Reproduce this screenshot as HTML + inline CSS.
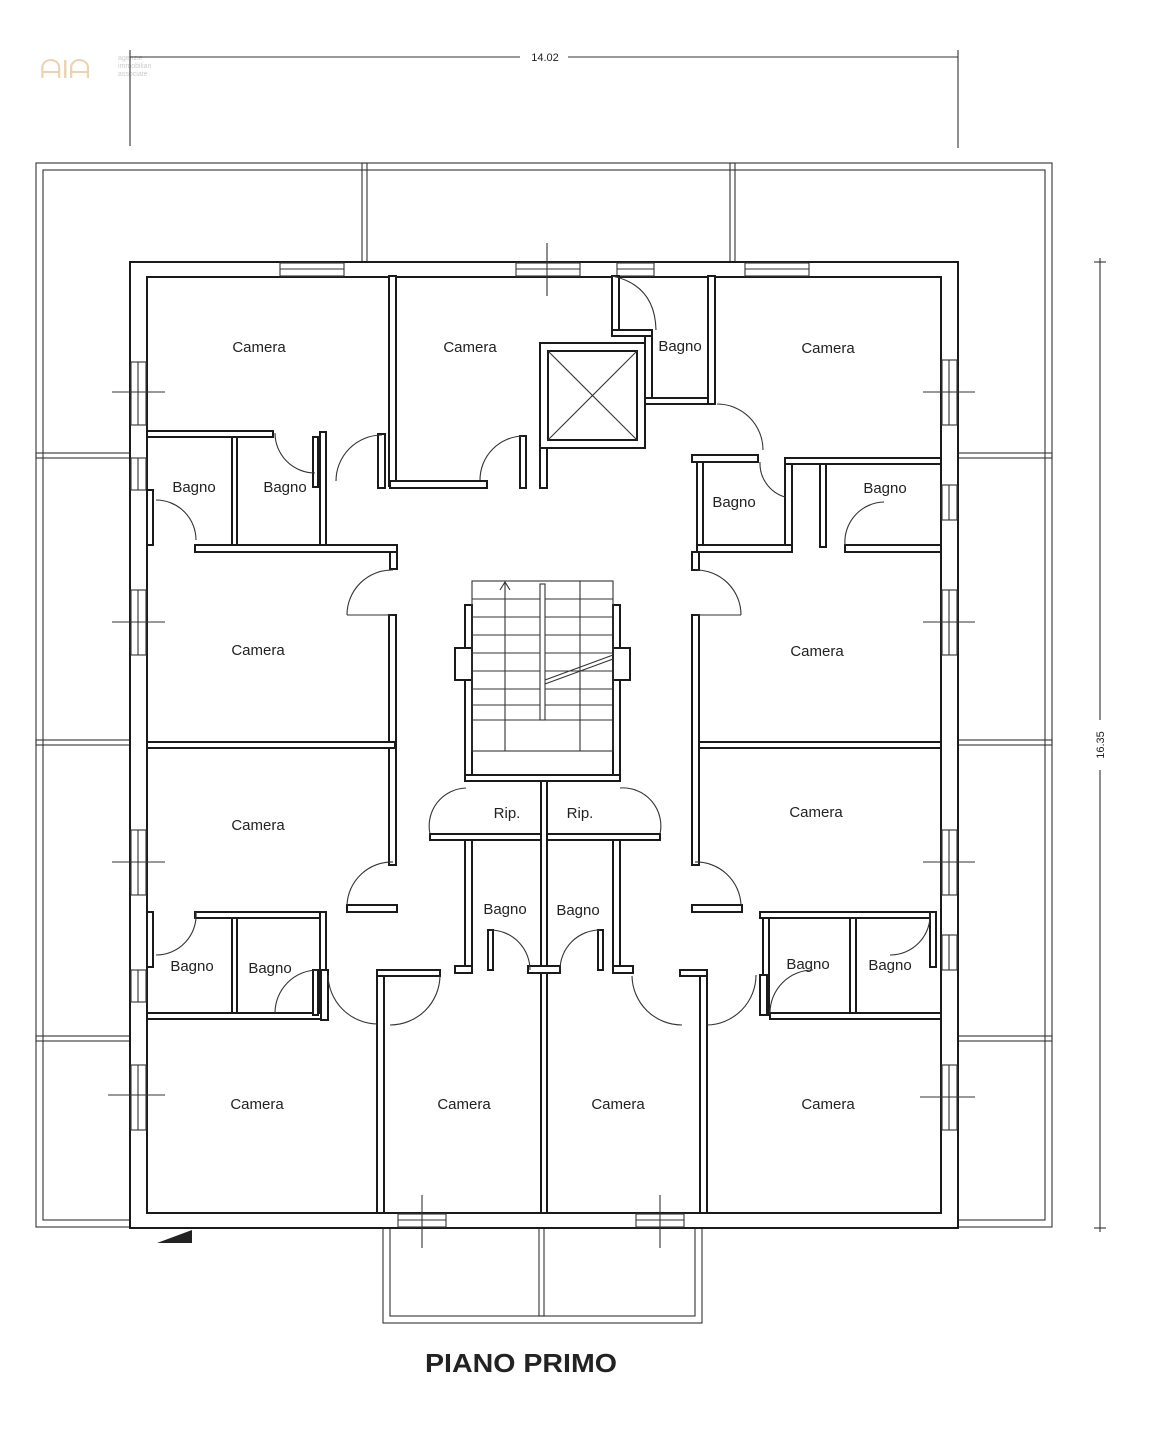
<!DOCTYPE html>
<html><head><meta charset="utf-8"><style>
html,body{margin:0;padding:0;background:#fff}
svg{display:block}
.w{fill:#fff;stroke:#1a1a1a;stroke-width:2}
.t{fill:none;stroke:#333;stroke-width:1.1}
.d{fill:none;stroke:#333;stroke-width:1.1}
text{font-family:"Liberation Sans",sans-serif;fill:#222}
.lb{font-size:15px;text-anchor:middle}
</style></head><body>
<svg width="1165" height="1451" viewBox="0 0 1165 1451" xmlns="http://www.w3.org/2000/svg">
<text x="40" y="78" font-size="26" style="fill:#ecd3b0">ᗩIᗩ</text>
<text x="118" y="60" font-size="7" style="fill:#ccc">agenzie</text>
<text x="118" y="68" font-size="7" style="fill:#ccc">immobiliari</text>
<text x="118" y="76" font-size="7" style="fill:#ccc">associate</text>
<line x1="130" y1="57" x2="520" y2="57" class="t"/><line x1="568" y1="57" x2="958" y2="57" class="t"/>
<line x1="130" y1="50" x2="130" y2="146" class="t"/><line x1="958" y1="50" x2="958" y2="148" class="t"/>
<text x="545" y="61" font-size="11" text-anchor="middle">14.02</text>
<line x1="1100" y1="258" x2="1100" y2="720" class="t"/><line x1="1100" y1="770" x2="1100" y2="1232" class="t"/>
<line x1="1094" y1="262" x2="1106" y2="262" class="t"/><line x1="1094" y1="1228" x2="1106" y2="1228" class="t"/>
<text x="1104" y="745" font-size="11" text-anchor="middle" transform="rotate(-90 1104 745)">16.35</text>
<rect x="36" y="163" width="1016" height="1064" class="t"/>
<rect x="43" y="170" width="1002" height="1050" class="t"/>
<rect x="362" y="163" width="5" height="100" class="t"/><rect x="730" y="163" width="5" height="100" class="t"/>
<rect x="36" y="453" width="94" height="5" class="t"/><rect x="36" y="740" width="94" height="5" class="t"/><rect x="36" y="1036" width="94" height="5" class="t"/>
<rect x="958" y="453" width="94" height="5" class="t"/><rect x="958" y="740" width="94" height="5" class="t"/><rect x="958" y="1036" width="94" height="5" class="t"/>
<rect x="383" y="1227" width="319" height="96" class="t"/><rect x="390" y="1227" width="305" height="89" class="t"/>
<rect x="539" y="1227" width="5" height="89" class="t"/>
<polygon points="157,1243 192,1230 192,1243" fill="#222"/>
<path d="M130 262 H958 V1228 H130 Z M147 277 V1213 H941 V277 Z" fill="#fff" stroke="#1a1a1a" stroke-width="2" fill-rule="evenodd"/>
<g class="t">
<rect x="280" y="263" width="64" height="13"/><line x1="280" y1="269" x2="344" y2="269"/>
<rect x="516" y="263" width="64" height="13"/><line x1="516" y1="269" x2="580" y2="269"/>
<rect x="617" y="263" width="37" height="13"/><line x1="617" y1="269" x2="654" y2="269"/>
<rect x="745" y="263" width="64" height="13"/><line x1="745" y1="269" x2="809" y2="269"/>
<rect x="131" y="362" width="15" height="63"/><line x1="138" y1="362" x2="138" y2="425"/>
<rect x="131" y="458" width="15" height="32"/><line x1="138" y1="458" x2="138" y2="490"/>
<rect x="131" y="590" width="15" height="65"/><line x1="138" y1="590" x2="138" y2="655"/>
<rect x="131" y="830" width="15" height="65"/><line x1="138" y1="830" x2="138" y2="895"/>
<rect x="131" y="970" width="15" height="32"/><line x1="138" y1="970" x2="138" y2="1002"/>
<rect x="131" y="1065" width="15" height="65"/><line x1="138" y1="1065" x2="138" y2="1130"/>
<rect x="942" y="360" width="15" height="65"/><line x1="949" y1="360" x2="949" y2="425"/>
<rect x="942" y="485" width="15" height="35"/><line x1="949" y1="485" x2="949" y2="520"/>
<rect x="942" y="590" width="15" height="65"/><line x1="949" y1="590" x2="949" y2="655"/>
<rect x="942" y="830" width="15" height="65"/><line x1="949" y1="830" x2="949" y2="895"/>
<rect x="942" y="935" width="15" height="35"/><line x1="949" y1="935" x2="949" y2="970"/>
<rect x="942" y="1065" width="15" height="65"/><line x1="949" y1="1065" x2="949" y2="1130"/>
<rect x="398" y="1214" width="48" height="13"/><line x1="398" y1="1220" x2="446" y2="1220"/>
<rect x="636" y="1214" width="48" height="13"/><line x1="636" y1="1220" x2="684" y2="1220"/>
<line x1="112" y1="392" x2="165" y2="392"/><line x1="112" y1="622" x2="165" y2="622"/><line x1="112" y1="862" x2="165" y2="862"/><line x1="108" y1="1095" x2="165" y2="1095"/>
<line x1="923" y1="392" x2="975" y2="392"/><line x1="923" y1="622" x2="975" y2="622"/><line x1="923" y1="862" x2="975" y2="862"/><line x1="920" y1="1097" x2="975" y2="1097"/>
<line x1="547" y1="243" x2="547" y2="296"/><line x1="422" y1="1195" x2="422" y2="1248"/><line x1="660" y1="1195" x2="660" y2="1248"/>
</g>
<g class="w">
<rect x="389" y="276" width="7" height="210"/>
<rect x="390" y="481" width="97" height="7"/>
<rect x="378" y="434" width="7" height="54"/>
<rect x="147" y="431" width="126" height="6"/>
<rect x="232" y="437" width="5" height="110"/>
<rect x="320" y="432" width="6" height="115"/>
<rect x="313" y="437" width="5" height="50"/>
<rect x="195" y="545" width="202" height="7"/>
<rect x="390" y="552" width="7" height="17"/>
<rect x="147" y="490" width="6" height="55"/>
<rect x="520" y="436" width="6" height="52"/>
<rect x="540" y="343" width="105" height="105"/>
<rect x="548" y="351" width="89" height="89"/>
<rect x="540" y="448" width="7" height="40"/>
<rect x="612" y="276" width="7" height="60"/>
<rect x="612" y="330" width="40" height="6"/>
<rect x="645" y="336" width="7" height="68"/>
<rect x="645" y="398" width="70" height="6"/>
<rect x="708" y="276" width="7" height="128"/>
<rect x="692" y="455" width="66" height="7"/>
<rect x="697" y="462" width="6" height="85"/>
<rect x="785" y="460" width="7" height="87"/>
<rect x="785" y="458" width="156" height="6"/>
<rect x="820" y="464" width="6" height="83"/>
<rect x="697" y="545" width="95" height="7"/>
<rect x="845" y="545" width="96" height="7"/>
<rect x="692" y="552" width="7" height="18"/>
<rect x="389" y="615" width="7" height="250"/>
<rect x="147" y="742" width="248" height="6"/>
<rect x="347" y="905" width="50" height="7"/>
<rect x="195" y="912" width="130" height="6"/>
<rect x="232" y="918" width="5" height="95"/>
<rect x="320" y="912" width="6" height="103"/>
<rect x="147" y="1013" width="175" height="6"/>
<rect x="147" y="912" width="6" height="55"/>
<rect x="313" y="970" width="5" height="45"/>
<rect x="692" y="615" width="7" height="250"/>
<rect x="699" y="742" width="242" height="6"/>
<rect x="692" y="905" width="50" height="7"/>
<rect x="760" y="912" width="170" height="6"/>
<rect x="763" y="918" width="6" height="97"/>
<rect x="850" y="918" width="6" height="97"/>
<rect x="930" y="912" width="6" height="55"/>
<rect x="770" y="1013" width="171" height="6"/>
<rect x="465" y="605" width="7" height="170"/>
<rect x="613" y="605" width="7" height="170"/>
<rect x="455" y="648" width="17" height="32"/>
<rect x="613" y="648" width="17" height="32"/>
<rect x="465" y="775" width="155" height="6"/>
<rect x="430" y="834" width="230" height="6"/>
<rect x="541" y="781" width="6" height="190"/>
<rect x="465" y="840" width="7" height="130"/>
<rect x="613" y="840" width="7" height="130"/>
<rect x="455" y="966" width="17" height="7"/><rect x="613" y="966" width="20" height="7"/>
<rect x="528" y="966" width="32" height="7"/>
<rect x="488" y="930" width="5" height="40"/><rect x="598" y="930" width="5" height="40"/>
<rect x="377" y="970" width="7" height="243"/>
<rect x="377" y="970" width="63" height="6"/>
<rect x="541" y="973" width="6" height="240"/>
<rect x="700" y="970" width="7" height="243"/>
<rect x="680" y="970" width="27" height="6"/>
<rect x="321" y="970" width="7" height="50"/>
<rect x="760" y="975" width="7" height="40"/>
</g>
<line x1="548" y1="351" x2="637" y2="440" class="t"/><line x1="637" y1="351" x2="548" y2="440" class="t"/>
<g class="t">
<rect x="472" y="581" width="141" height="170"/>
<line x1="505" y1="581" x2="505" y2="751"/><line x1="580" y1="581" x2="580" y2="751"/>
<line x1="505" y1="751" x2="580" y2="751"/>
<rect x="540" y="584" width="5" height="136"/><line x1="472" y1="720" x2="613" y2="720"/>
<line x1="472" y1="599" x2="540" y2="599"/><line x1="472" y1="617" x2="540" y2="617"/><line x1="472" y1="635" x2="540" y2="635"/><line x1="472" y1="653" x2="540" y2="653"/><line x1="472" y1="671" x2="540" y2="671"/><line x1="472" y1="689" x2="540" y2="689"/><line x1="472" y1="705" x2="540" y2="705"/>
<line x1="545" y1="599" x2="613" y2="599"/><line x1="545" y1="617" x2="613" y2="617"/><line x1="545" y1="635" x2="613" y2="635"/><line x1="545" y1="653" x2="613" y2="653"/><line x1="545" y1="671" x2="613" y2="671"/><line x1="545" y1="689" x2="613" y2="689"/><line x1="545" y1="705" x2="613" y2="705"/>
<line x1="545" y1="680" x2="613" y2="655"/><line x1="545" y1="684" x2="613" y2="659"/>
<path d="M500 590 L505 582 L510 590"/>
</g>
<g class="d">
<path d="M382 435 A46 46 0 0 0 336 481"/>
<path d="M523 436 A44 44 0 0 0 480 480"/>
<path d="M612 276 Q655 285 656 330"/>
<path d="M717 404 A46 46 0 0 1 763 450"/>
<path d="M275 433 A40 40 0 0 0 315 473"/>
<path d="M156 500 A40 40 0 0 1 196 540"/>
<path d="M760 462 A35 35 0 0 0 785 497"/>
<path d="M884 502 A40 40 0 0 0 845 545"/>
<path d="M393 570 A45 45 0 0 0 347 615"/><line x1="347" y1="615" x2="393" y2="615"/>
<path d="M695 570 A45 45 0 0 1 741 615"/><line x1="695" y1="615" x2="741" y2="615"/>
<path d="M393 862 A45 45 0 0 0 347 905"/>
<path d="M695 862 A45 45 0 0 1 741 905"/>
<path d="M466 788 A38 38 0 0 0 430 834"/>
<path d="M620 788 A38 38 0 0 1 660 834"/>
<path d="M196 912 A40 40 0 0 1 156 955"/>
<path d="M930 912 A40 40 0 0 1 890 955"/>
<path d="M318 970 A43 43 0 0 0 275 1013"/>
<path d="M813 970 A43 43 0 0 0 770 1013"/>
<path d="M490 930 A40 40 0 0 1 530 970"/>
<path d="M600 930 A40 40 0 0 0 560 970"/>
<path d="M328 975 A50 50 0 0 0 377 1024"/>
<path d="M440 976 A50 50 0 0 1 390 1025"/>
<path d="M632 976 A50 50 0 0 0 682 1025"/>
<path d="M756 975 A50 50 0 0 1 707 1025"/>
</g>
<g>
<text x="259" y="352" class="lb">Camera</text>
<text x="470" y="352" class="lb">Camera</text>
<text x="680" y="351" class="lb">Bagno</text>
<text x="828" y="353" class="lb">Camera</text>
<text x="194" y="492" class="lb">Bagno</text>
<text x="285" y="492" class="lb">Bagno</text>
<text x="734" y="507" class="lb">Bagno</text>
<text x="885" y="493" class="lb">Bagno</text>
<text x="258" y="655" class="lb">Camera</text>
<text x="817" y="656" class="lb">Camera</text>
<text x="507" y="818" class="lb">Rip.</text>
<text x="580" y="818" class="lb">Rip.</text>
<text x="258" y="830" class="lb">Camera</text>
<text x="816" y="817" class="lb">Camera</text>
<text x="505" y="914" class="lb">Bagno</text>
<text x="578" y="915" class="lb">Bagno</text>
<text x="192" y="971" class="lb">Bagno</text>
<text x="270" y="973" class="lb">Bagno</text>
<text x="808" y="969" class="lb">Bagno</text>
<text x="890" y="970" class="lb">Bagno</text>
<text x="257" y="1109" class="lb">Camera</text>
<text x="464" y="1109" class="lb">Camera</text>
<text x="618" y="1109" class="lb">Camera</text>
<text x="828" y="1109" class="lb">Camera</text>
</g>
<text x="521" y="1372" font-size="26" font-weight="bold" text-anchor="middle" textLength="192" lengthAdjust="spacingAndGlyphs">PIANO PRIMO</text>
</svg>
</body></html>
